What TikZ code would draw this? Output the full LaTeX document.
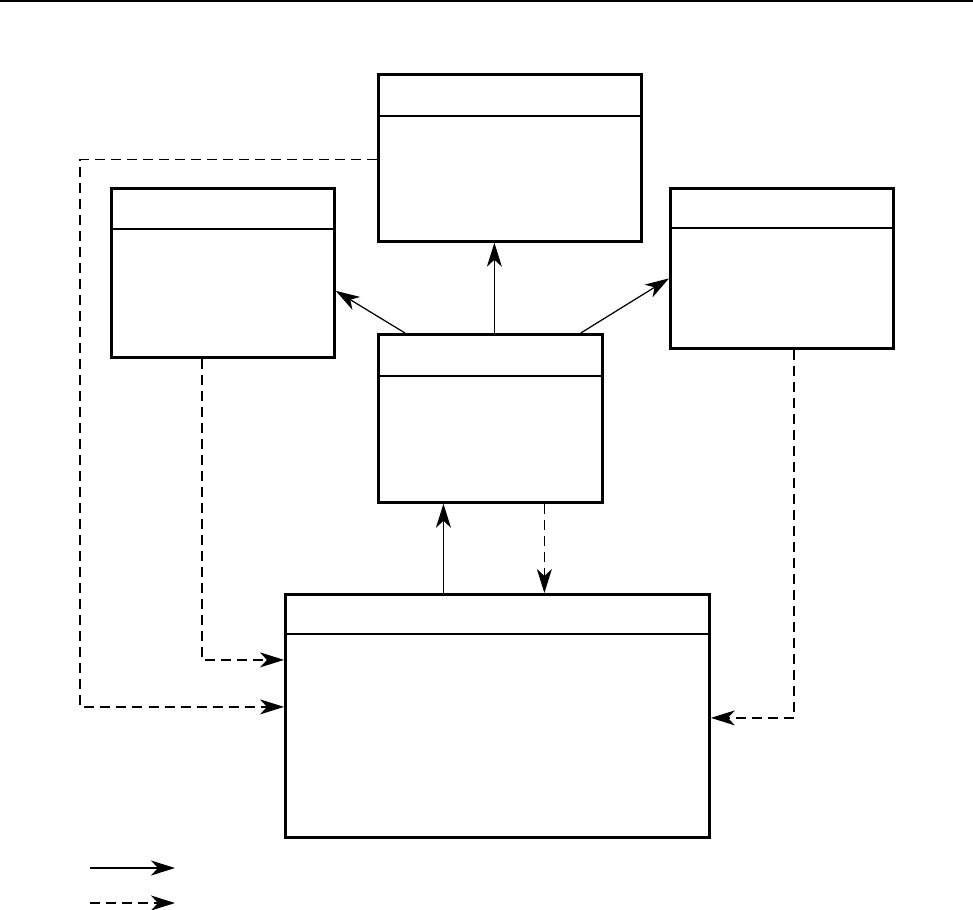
\documentclass[tikz,border=0pt]{standalone}
\usetikzlibrary{positioning,arrows.meta,calc}

\begin{document}
\begin{tikzpicture}[x=0.01cm, y=-0.01cm,
  cls/.style={draw, line width=0.75pt, anchor=north west, inner sep=0pt},
  sep/.style={line width=0.65pt},
  arr/.style={-{Stealth[length=2.4mm, width=1.5mm, inset=0.7mm]}, line width=0.35pt},
  dep/.style={arr, dash pattern=on 1mm off 0.6mm}]
\useasboundingbox (0,0) rectangle (973,909);
\draw[sep] (0,1) -- (973,1);
% class boxes
\node[cls, minimum width=2.63cm, minimum height=1.67cm] (cTop) at (377,73) {};
\node[cls, minimum width=2.23cm, minimum height=1.69cm] (cLeft) at (110,187) {};
\node[cls, minimum width=2.23cm, minimum height=1.60cm] (cRight) at (669,187) {};
\node[cls, minimum width=2.24cm, minimum height=1.68cm] (cMid) at (377,333) {};
\node[cls, minimum width=4.24cm, minimum height=2.43cm] (cBot) at (284,593) {};
\foreach \n/\h in {cTop/43, cLeft/42, cRight/41, cMid/43, cBot/41}
  \draw[sep] ($(\n.north west)+(0,\h)$) -- ($(\n.north east)+(0,\h)$);
% end points on the middle and bottom boxes
\coordinate (midUp) at ($(cMid.north)+(4,0)$);
\coordinate (botUp) at ($(cBot.north)+(-54,0)$);
\coordinate (midDn) at ($(cMid.south)+(54,0)$);
% generalisation arrows
\draw[arr] (midUp) -- (midUp |- cTop.south);
\draw[arr] ($(cMid.north west)+(28,0)$) -- ($(cLeft.east)+(0,18)$);
\draw[arr] ($(cMid.north east)+(-23,0)$) -- ($(cRight.west)+(0,10)$);
\draw[arr] (botUp) -- (botUp |- cMid.south);
% dependencies
\draw[dep] (midDn) -- (midDn |- cBot.north);
\draw[dep] ($(cLeft.south)+(-21,0)$) |- ($(cBot.west)+(0,-56)$);
\draw[dep] ($(cTop.west)+(0,2)$) -- ++(-297,0) |- ($(cBot.west)+(0,-9)$);
\draw[dep] ($(cRight.south)+(12,0)$) |- ($(cBot.east)+(0,2)$);
% key
\coordinate (keyA) at (90,868);
\coordinate (keyB) at (90,903);
\draw[arr] (keyA) -- ++(85,0);
\draw[dep] (keyB) -- ++(85,0);
\end{tikzpicture}
\end{document}
